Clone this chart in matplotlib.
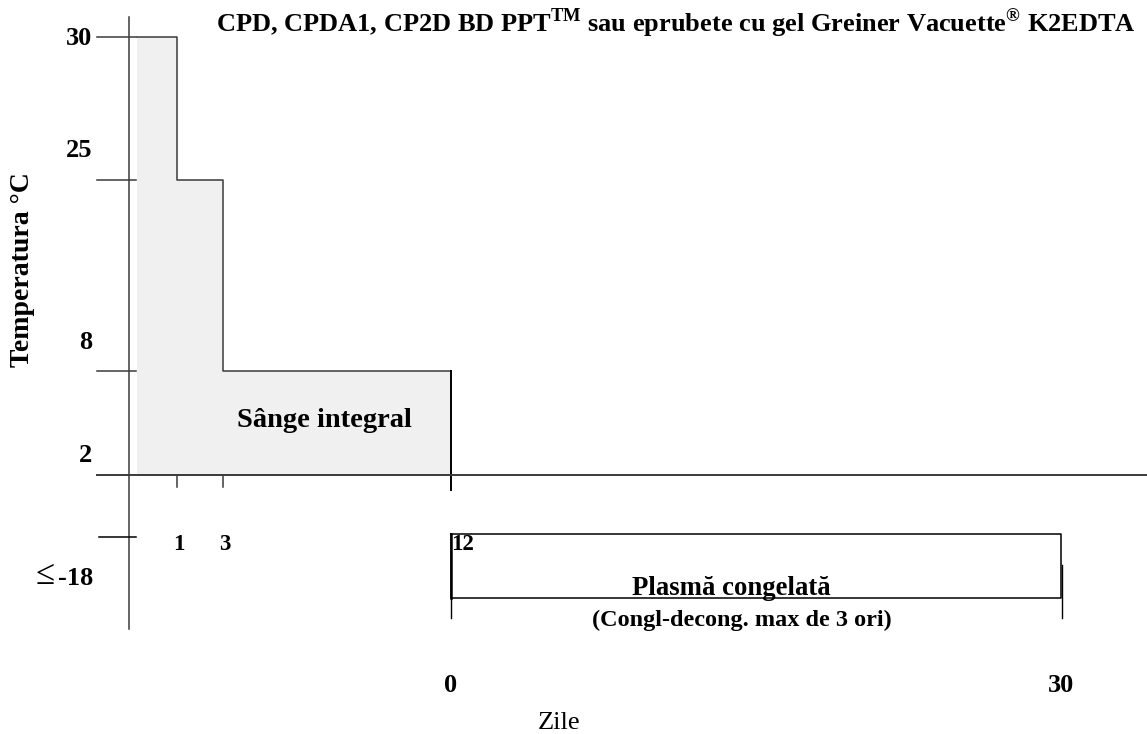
import numpy as np
import matplotlib
matplotlib.use("Agg")
import matplotlib.pyplot as plt

# ---------------- data ----------------
title_main = "CPD, CPDA1, CP2D BD PPT"
title_mid = " sau eprubete cu gel Greiner Vacuette"
title_end = " K2EDTA"
temp_levels = [30, 25, 8]          # storage temperature (°C) per step
temp_floor = 2                     # lower bound of whole-blood storage (°C)
frozen_temp = -18                  # frozen plasma (≤ -18 °C)
step_days = [0, 1, 3, 12]          # day boundaries of the steps
plasma_days = [0, 30]              # frozen plasma storage (days)
ytick_labels = ["30", "25", "8", "2"]
ytick_values = [30, 25, 8, 2]
day_labels = ["1", "3", "12"]
day_values = [1, 3, 12]
plasma_labels = ["0", "30"]
whole_blood_label = "Sânge integral"
plasma_label = "Plasmă congelată"
plasma_note = "(Congl-decong. max de 3 ori)"
xlabel = "Zile"
ylabel = "Temperatura °C"

W, H = 1147, 734
plasma_offset = step_days[-1]  # plasma timeline starts where whole blood ends

# ---------------- schematic (piecewise) scales ----------------
def piecewise(xs, ys):
    xs = np.asarray(xs, float); ys = np.asarray(ys, float)
    def f(v):
        v = np.asarray(v, float)
        out = np.interp(v, xs, ys)
        lo_s = (ys[1] - ys[0]) / (xs[1] - xs[0])
        hi_s = (ys[-1] - ys[-2]) / (xs[-1] - xs[-2])
        out = np.where(v < xs[0], ys[0] + (v - xs[0]) * lo_s, out)
        out = np.where(v > xs[-1], ys[-1] + (v - xs[-1]) * hi_s, out)
        return out
    return f

x_anchor_days = [0, 1, 3, 12, plasma_offset + plasma_days[1]]
x_anchor_px = [137.3, 176.7, 222.7, 451.0, 1061.3]
y_anchor_temp = [frozen_temp, temp_floor, 8, 25, 30]
y_anchor_px = [H - 537, H - 474.5, H - 371, H - 180, H - 37]

xf, xi = piecewise(x_anchor_days, x_anchor_px), piecewise(x_anchor_px, x_anchor_days)
yf, yi = piecewise(y_anchor_temp, y_anchor_px), piecewise(y_anchor_px, y_anchor_temp)

plt.rcParams['font.family'] = ['Liberation Serif', 'DejaVu Serif']
plt.rcParams['mathtext.fontset'] = 'custom'
plt.rcParams['mathtext.rm'] = 'Liberation Serif:bold'
plt.rcParams['mathtext.bf'] = 'Liberation Serif:bold'

fig = plt.figure(figsize=(W / 100, H / 100), dpi=100)
ax = fig.add_axes([0, 0, 1, 1])
ax.set_xscale('function', functions=(xf, xi))
ax.set_yscale('function', functions=(yf, yi))
ax.set_xlim(float(xi(0)), float(xi(W)))
ax.set_ylim(float(yi(0)), float(yi(H)))
ax.axis('off')

def X(px):  # layout pixel -> data x
    return float(xi(px))

def Y(py):  # layout pixel (from top) -> data y
    return float(yi(H - py))

axis_col = '#3a3a3a'
lw = 1.1

# whole-blood stepped region
edges = np.array(step_days, float)
levels = np.array(temp_levels + [temp_levels[-1]], float)
ax.fill_between(edges, temp_floor, levels, step='post', color='#f0f0f0', lw=0, zorder=1)
ax.step(edges, levels, where='post', color=axis_col, lw=lw, zorder=2)
ax.plot([step_days[-1], step_days[-1]], [temp_levels[-1], Y(490)], color='black', lw=1.4, zorder=2)

# axes
ax.plot([X(129.3), X(129.3)], [Y(17), Y(629)], color=axis_col, lw=lw, zorder=3)
ax.plot([X(97), X(W)], [temp_floor, temp_floor], color=axis_col, lw=1.4, zorder=3)

# y ticks
for v in temp_levels:
    ax.plot([X(97), X(136)], [v, v], color=axis_col, lw=lw, zorder=3)
ax.plot([X(99), X(136)], [frozen_temp, frozen_temp], color='black', lw=lw, zorder=3)

# day ticks
for d in day_values[:2]:
    ax.plot([d, d], [temp_floor, Y(487)], color=axis_col, lw=lw, zorder=3)

# frozen plasma box
p0, p1 = plasma_offset + plasma_days[0], plasma_offset + plasma_days[1]
ytop, ybot = Y(534), Y(597.7)
ax.plot([p0, p1, p1, p0, p0], [ytop, ytop, ybot, ybot, ytop], color='black', lw=1.1, zorder=3)
ax.plot([p0, p0], [ytop, ybot], color='black', lw=1.8, zorder=3)
ax.plot([p0, p0], [ybot, Y(618)], color='black', lw=1.0, zorder=3)
ax.plot([p1 + 0.03, p1 + 0.03], [Y(565), Y(618)], color='black', lw=1.0, zorder=3)

# ---------------- texts ----------------
def T(x, y, s, **kw):
    kw.setdefault('fontweight', 'bold')
    return fig.text(x / W, 1 - y / H, s, **kw)

tick_fs = 19
ytick_baselines = [45, 157, 349, 462]
for lab, b in zip(ytick_labels, ytick_baselines):
    T(92, b, lab, ha='right', va='baseline', fontsize=tick_fs)
T(93, 585, "-18", ha='right', va='baseline', fontsize=tick_fs)
T(55, 584, "≤", ha='right', va='baseline', fontsize=25, fontweight='normal')

for lab, d in zip(day_labels, day_values):
    xc = float(xf(d))
    if lab == "12":
        T(xc, 550, lab, ha='left', va='baseline', fontsize=16.5)
    else:
        T(xc + 2, 550, lab, ha='center', va='baseline', fontsize=16.5)

for lab, d in zip(plasma_labels, plasma_days):
    xc = float(xf(plasma_offset + d))
    T(xc, 692, lab, ha='center', va='baseline', fontsize=tick_fs)

T(216, 32, title_main + r"$^{\mathregular{TM}}$" + title_mid + r"$^{\circledR}$" + title_end,
  ha='left', va='baseline', fontsize=19)

T(237, 427, whole_blood_label, ha='left', va='baseline', fontsize=20.5)
T(731, 595, plasma_label, ha='center', va='baseline', fontsize=19.3)
T(742, 626, plasma_note, ha='center', va='baseline', fontsize=17.5)
T(559, 729, xlabel, ha='center', va='baseline', fontsize=19, fontweight='normal')
T(23, 270, ylabel, ha='center', va='center', rotation=90, fontsize=20)

fig.savefig("out.png", dpi=100)
